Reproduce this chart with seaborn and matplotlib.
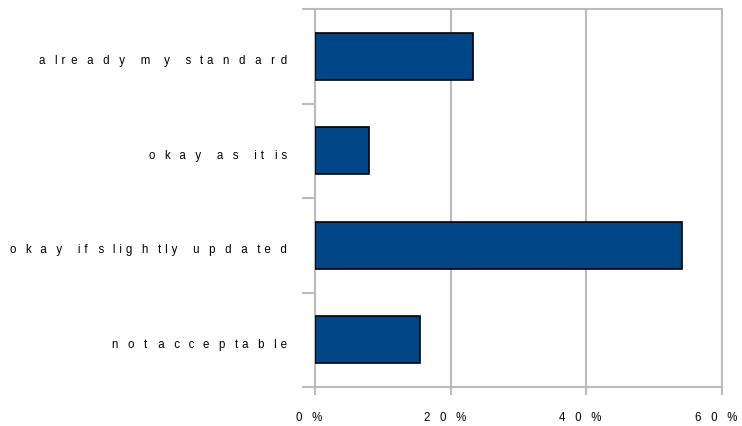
import matplotlib
matplotlib.use("Agg")
import matplotlib.pyplot as plt
import matplotlib.transforms as mtransforms
from matplotlib import ft2font
from matplotlib.font_manager import findfont, FontProperties
import seaborn as sns
import pandas as pd

categories = ["already my standard", "okay as it is", "okay if slightly updated", "not acceptable"]
values = [23.3, 8.0, 54.1, 15.5]
x_ticks = [0, 20, 40, 60]
x_tick_labels = ["0%", "20%", "40%", "60%"]

FONT_PT = 8.3
FAMILIES = ["Liberation Sans", "DejaVu Sans"]
DPI = 100
PX_PER_EM_SPACED = 28.0   # letter-spaced advance (px per em of glyph advance)

# --- letter spacing helper (text stays real text, padded with unicode spaces) ---
_fonts = []
for fam in FAMILIES:
    f = ft2font.FT2Font(findfont(FontProperties(family=fam)))
    f.set_size(100, 72)
    _fonts.append(f)
try:
    _NOH = ft2font.LoadFlags.NO_HINTING
except AttributeError:
    _NOH = ft2font.LOAD_NO_HINTING


def adv_em(ch):
    for f in _fonts:
        if f.get_char_index(ord(ch)):
            g = f.load_char(ord(ch), flags=_NOH)
            return g.linearHoriAdvance / 65536 / 100
    return 0.5


_SPACERS = sorted([(adv_em(c), c) for c in "\u2003\u2002\u2004\u2005\u2009\u2006\u200a"
                   if adv_em(c) > 0.01], reverse=True)
_F_PX = FONT_PT * DPI / 72


def spacer(ch):
    t = (PX_PER_EM_SPACED - _F_PX) / _F_PX * adv_em(ch)
    out = ""
    for w, c in _SPACERS:
        while t >= w * 0.85:
            out += c
            t -= w
    return out


def spaced(s):
    out = ""
    for i, ch in enumerate(s):
        out += ch
        if i < len(s) - 1:
            out += spacer(ch)
    return out


sns.set_theme(style="white")
plt.rcParams["font.family"] = FAMILIES

df = pd.DataFrame({"category": categories, "value": values})

fig = plt.figure(figsize=(7.42, 4.26), dpi=DPI)
ax = fig.add_axes([315 / 742, 1 - 387 / 426, (722 - 315) / 742, (387 - 9) / 426])

grid_c = "#bbbbbb"
sns.barplot(data=df, x="value", y="category", order=categories, orient="h",
            color="#004586", saturation=1, width=0.5, edgecolor="black",
            linewidth=1.2, ax=ax, zorder=3)

ax.set_xlim(0, 60)
ax.set_ylim(3.5, -0.5)
ax.set_xticks(x_ticks)
ax.set_xticklabels([spaced(t) for t in x_tick_labels], fontsize=FONT_PT, color="black")
ax.xaxis.grid(True, color=grid_c, linewidth=1.5, zorder=0)
ax.set_axisbelow(True)

ax.set_yticks([-0.5, 0.5, 1.5, 2.5, 3.5])
ax.set_yticklabels([])
ax.set_yticks(range(len(categories)), minor=True)
ax.set_yticklabels([spaced(c) for c in categories], minor=True, fontsize=FONT_PT, color="black")
ax.tick_params(axis="y", which="major", length=9.4, width=1.5, color=grid_c, left=True)
ax.tick_params(axis="y", which="minor", length=0, pad=20.2, left=True)
ax.tick_params(axis="x", which="major", length=5.8, width=1.5, color=grid_c, bottom=True, pad=12)

for sp in ax.spines.values():
    sp.set_color(grid_c)
    sp.set_linewidth(1.5)

xoff = mtransforms.ScaledTranslation(-6 / 100, 0, fig.dpi_scale_trans)
for lbl in ax.get_xticklabels():
    lbl.set_transform(lbl.get_transform() + xoff)
yoff = mtransforms.ScaledTranslation(0, -3.5 / 100, fig.dpi_scale_trans)
for lbl in ax.get_yticklabels(minor=True):
    lbl.set_transform(lbl.get_transform() + yoff)

ax.set_xlabel("")
ax.set_ylabel("")

fig.savefig("out.png", dpi=DPI)
